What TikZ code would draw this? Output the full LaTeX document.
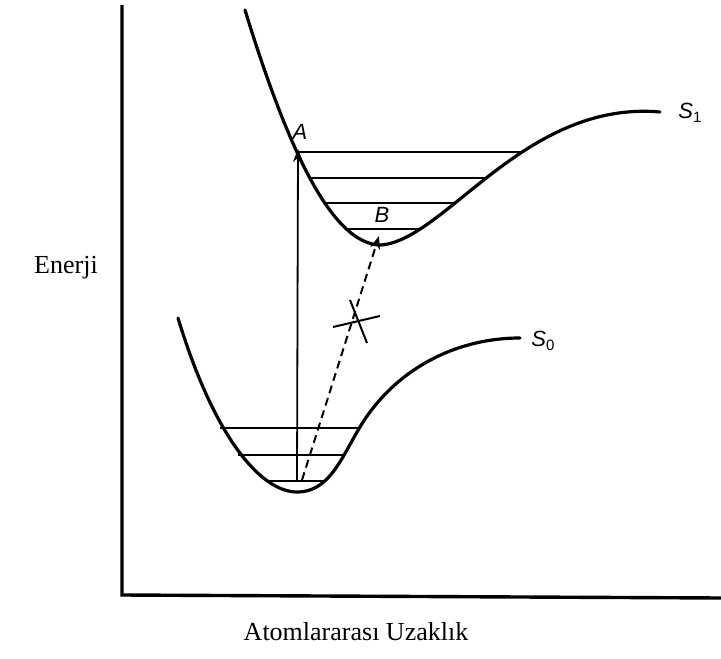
\documentclass[tikz,border=0pt]{standalone}
\usepackage{fontspec}
\setmainfont{Liberation Serif}
\newfontfamily\etiket{Liberation Sans}
\usetikzlibrary{arrows.meta}
\tikzset{
  egri/.style={line width=3.2pt, line cap=round},
  seviye/.style={line width=2pt},
  harf/.style={font=\etiket\itshape\fontsize{22}{24}\selectfont},
}
\newcommand{\altsayi}[1]{\raisebox{-0.35ex}{\upshape\fontsize{15}{17}\selectfont #1}}
\begin{document}
\begin{tikzpicture}[x=1pt,y=-1pt]
    \useasboundingbox (0,0) rectangle (721,659);
    \draw[line width=3.4pt] (122,5)--(122,595)--(721,598);
    \node (enerji) at (66,268) {\fontsize{26}{30}\selectfont Enerji};
    \node (uzaklik) at (356,632) {\fontsize{26}{30}\selectfont Atomlararası Uzaklık};

    % Egri S1
    \draw[egri] (245,10) .. controls (285,140) and (330,245) .. (381,245)
                         .. controls (445,240) and (525,100) .. (660,112);
    \node[harf] (s1) at (690,113) {S\altsayi{1}};
    \draw[seviye] (296,152)--(522,152);
    \draw[seviye] (309,178)--(488,178);
    \draw[seviye] (325,203)--(456,203);
    \draw[seviye] (347,229)--(420,229);

    % Egri S0
    \draw[egri] (178,318) .. controls (215,440) and (262,492) .. (297,492)
                          .. controls (335,492) and (345,445) .. (370,412)
                          .. controls (405,365) and (460,338) .. (520,338);
    \node[harf] (s0) at (543,341) {S\altsayi{0}};
    \draw[seviye] (220,428)--(360,428);
    \draw[seviye] (238,455)--(344,455);
    \draw[seviye] (268,481)--(325,481);

    % Gecisler
    \coordinate (a0) at (297,481);
    \coordinate (b0) at (302,480);
    \node[harf] (A) at (300,132) {A};
    \node[harf] (B) at (382,215) {B};
    \draw[-{Stealth[length=13pt,width=10pt]},line width=1.8pt] (a0) -- (298,149);
    \draw[-{Stealth[length=13pt,width=10pt]},line width=2pt,dash pattern=on 8pt off 5pt] (b0) -- (379,236);
    % carpi
    \draw[line width=2pt] (333,327)--(380,316);
    \draw[line width=2pt] (350,300)--(367,343);
\end{tikzpicture}
\end{document}
